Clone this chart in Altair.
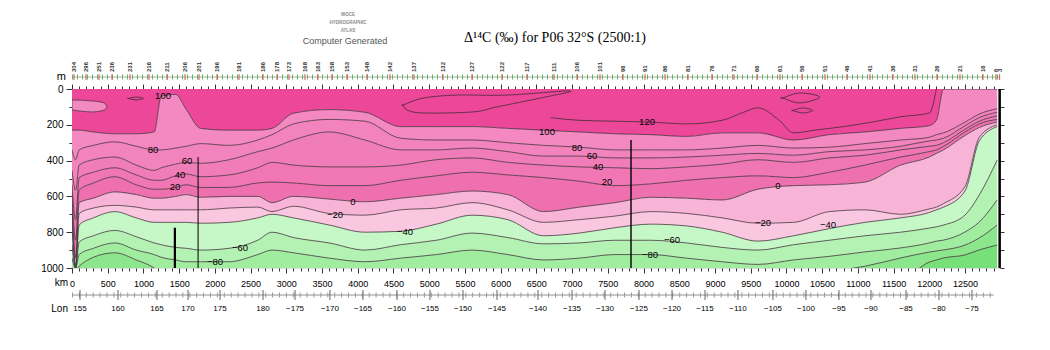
import altair as alt
import pandas as pd

# ---------------- data ----------------
KM = [0, 50, 100, 300, 600, 900, 1150, 1250, 1450, 1600, 1800, 2200, 2600, 2800, 3100, 3600, 4100,
      4600, 5100, 5600, 6100, 6600, 7100, 7600, 8100, 8600, 9100, 9600, 10100, 10600, 11100, 11600,
      12000, 12100, 12200, 12500, 12700, 12950]

D100 = [230, 230, 230, 240, 250, 250, 240, 40, 30, 115, 220, 230, 230, 220, 135, 115, 130, 210, 210, 210,
        220, 230, 240, 250, 255, 265, 245, 245, 285, 255, 240, 220, 205, 175, 0, 0, 0, 0]
D80 = [340, 395, 340, 315, 295, 320, 340, 340, 330, 320, 305, 315, 285, 255, 195, 170, 180, 275, 285, 285,
       300, 315, 325, 340, 340, 340, 330, 315, 330, 325, 305, 285, 270, 255, 245, 185, 140, 110]
D60 = [455, 565, 425, 395, 380, 425, 455, 440, 420, 410, 415, 395, 350, 330, 285, 240, 285, 340, 340, 330,
       350, 375, 375, 385, 385, 380, 370, 360, 370, 350, 340, 320, 290, 285, 275, 205, 160, 130]
D40 = [535, 730, 495, 465, 440, 480, 510, 510, 485, 475, 490, 480, 440, 410, 425, 435, 435, 425, 395, 385,
       410, 425, 435, 440, 445, 435, 420, 395, 410, 385, 370, 340, 320, 315, 300, 225, 180, 150]
D20 = [590, 845, 565, 525, 490, 535, 560, 560, 550, 535, 550, 550, 525, 520, 525, 540, 540, 510, 485, 465,
       480, 495, 515, 540, 530, 510, 495, 485, 495, 465, 425, 380, 350, 340, 320, 240, 195, 170]
D0 = [650, 945, 635, 610, 575, 590, 610, 610, 600, 590, 605, 600, 600, 635, 600, 615, 630, 610, 590, 570,
      590, 685, 660, 635, 605, 610, 620, 560, 540, 535, 520, 425, 380, 360, 340, 260, 215, 185]
DM20 = [705, 985, 695, 665, 650, 660, 675, 675, 675, 675, 675, 665, 660, 685, 655, 695, 705, 675, 665, 635,
        675, 745, 730, 710, 685, 695, 720, 750, 745, 685, 675, 700, 670, 660, 640, 545, 270, 200]
DM40 = [775, 1000, 760, 720, 685, 720, 745, 745, 745, 745, 750, 745, 720, 700, 720, 760, 800, 795, 755, 705,
        730, 820, 805, 775, 755, 765, 800, 850, 820, 780, 745, 720, 690, 675, 660, 570, 290, 210]
DM60 = [870, 1000, 855, 820, 790, 825, 860, 870, 885, 890, 900, 890, 845, 800, 830, 860, 900, 870, 845, 805,
        830, 865, 860, 845, 845, 860, 885, 900, 870, 845, 820, 800, 777, 770, 760, 704, 592, 397]
DM80 = [945, 1000, 925, 890, 860, 900, 925, 940, 955, 965, 965, 965, 925, 900, 915, 945, 965, 945, 925, 900,
        925, 955, 945, 925, 925, 945, 965, 980, 955, 935, 910, 888, 860, 850, 844, 799, 743, 620]
DM100 = [1000, 1010, 990, 940, 915, 955, 1000, 1030, 1040, 1040, 1040, 1040, 1040, 1040, 1040, 1040, 1040,
         1040, 1040, 1040, 1040, 1040, 1040, 1040, 1040, 1040, 1040, 1040, 1040, 1020, 990, 944, 911, 905,
         899, 872, 832, 760]
DM120 = [1060, 1060, 1060, 1060, 1060, 1060, 1060, 1060, 1060, 1060, 1060, 1060, 1060, 1060, 1060, 1060,
         1060, 1060, 1060, 1060, 1060, 1060, 1060, 1060, 1060, 1060, 1060, 1060, 1060, 1060, 1060, 1060,
         967, 955, 944, 927, 899, 872]

LEVELS = [100, 80, 60, 40, 20, 0, -20, -40, -60, -80, -100, -120]
CONTOURS = [D100, D80, D60, D40, D20, D0, DM20, DM40, DM60, DM80, DM100, DM120]
BAND_NAMES = [">100", "80-100", "60-80", "40-60", "20-40", "0-20", "-20-0", "-40--20",
              "-60--40", "-80--60", "-100--80", "-120--100", "<-120"]
BAND_COLORS = ["#ec4799", "#f389c0", "#f283bc", "#f17db8", "#f077b4", "#ef70af", "#f8b4d6", "#fac7e0",
               "#c6f7c6", "#b4f2b4", "#a0eda0", "#8ce68c", "#78e078"]

# 120 permil contour (line only) and closed loops
C120_KM = [6700, 7100, 7600, 8100, 8600, 9100, 9400, 9600, 9900, 10100, 10400, 10800, 11200, 11600, 12000, 12100]
C120_D = [160, 175, 180, 185, 195, 175, 130, 105, 175, 245, 230, 210, 185, 155, 135, 0]
LOOP_A_KM = [4637, 4915, 5381, 6089, 6971, 6551, 5949, 5613, 4915, 4689, 4637]
LOOP_A_D = [89, 51, 34, 34, 11, 51, 100, 128, 134, 117, 89]
LOOP_B_KM = [9950, 10190, 10470, 10190, 9950]
LOOP_B_D = [50, 22, 45, 78, 50]
LOOP_C_KM = [10090, 10230, 10370, 10230, 10090]
LOOP_C_D = [120, 106, 120, 134, 120]
LOOP_D_KM = [790, 895, 1000, 895, 790]
LOOP_D_D = [53, 45, 53, 61, 53]
TONGUE_KM = [0, 290, 450, 490]
TONGUE_TOP = [61, 67, 78, 100]
TONGUE_BOT = [117, 128, 118, 100]

# vertical gaps (black lines)
GAP_KM = [1440, 1765, 7825]
GAP_TOP = [775, 380, 285]

# contour labels
LBL_TEXT = ["100", "80", "60", "40", "20", "0", "\u221220", "\u221260", "\u221280", "\u221240", "100", "120",
            "80", "60", "40", "20", "\u221260", "\u221280", "0", "\u221220", "\u221240"]
LBL_KM = [1274, 1134, 1610, 1512, 1442, 3933, 3681, 2352, 2002, 4661, 6649, 8049, 7069, 7279, 7363, 7489,
          8399, 8091, 9882, 9672, 10582]
LBL_D = [39, 341, 402, 480, 547, 631, 704, 888, 966, 799, 240, 184, 330, 374, 436, 520, 844, 927, 542, 749, 760]

# stations along the top
ST_KM = [28, 196, 378, 560, 812, 1078, 1330, 1582, 1778, 2030, 2338, 2674, 2870, 3037, 3261, 3443, 3639,
         3849, 4129, 4451, 4787, 5193, 5599, 6019, 6369, 6747, 7069, 7391, 7713, 8021, 8301, 8623, 8958,
         9266, 9588, 9910, 10218, 10540, 10848, 11170, 11492, 11800, 12108, 12430, 12752, 12934, 12985]
ST_LBL = ["304", "296", "251", "236", "231", "216", "211", "206", "201", "196", "191", "186", "178", "173",
          "168", "163", "158", "153", "148", "142", "137", "132", "127", "122", "117", "111", "106", "101",
          "96", "91", "86", "81", "76", "71", "66", "61", "56", "51", "46", "41", "36", "31", "26", "21",
          "16", "6", "3"]

# longitude labels (positions in km along the section)
LON_KM = [112, 644, 1190, 1624, 2072, 2674, 3122, 3611, 4073, 4549, 5011, 5473, 5949, 6523, 6999, 7461,
          7937, 8399, 8861, 9322, 9812, 10274, 10736, 11184, 11674, 12136, 12598]
LON_LBL = ["155", "160", "165", "170", "175", "180", "\u2212175", "\u2212170", "\u2212165", "\u2212160",
           "\u2212155", "\u2212150", "\u2212145", "\u2212140", "\u2212135", "\u2212130", "\u2212125",
           "\u2212120", "\u2212115", "\u2212110", "\u2212105", "\u2212100", "\u221295", "\u221290",
           "\u221285", "\u221280", "\u221275"]

XMAX = 12990
KM_TICKS = list(range(0, 13000, 100))
DEPTH_TICKS = list(range(0, 1001, 100))

# ---------------- tables ----------------
bounds = [[0] * len(KM)] + CONTOURS + [[1060] * len(KM)]
band_rows = []
for i, name in enumerate(BAND_NAMES):
    for k, t, b in zip(KM, bounds[i], bounds[i + 1]):
        band_rows.append({"km": k, "top": t, "bot": b, "band": name})
bands = pd.DataFrame(band_rows)

line_rows = []
for lev, arr in zip(LEVELS, CONTOURS):
    for k, d in zip(KM, arr):
        line_rows.append({"km": k, "depth": d, "lev": str(lev)})
for k, d in zip(C120_KM, C120_D):
    line_rows.append({"km": k, "depth": d, "lev": "120"})
lines = pd.DataFrame(line_rows)

loop_rows = []
for nm, ks, ds in [("A", LOOP_A_KM, LOOP_A_D), ("B", LOOP_B_KM, LOOP_B_D),
                   ("C", LOOP_C_KM, LOOP_C_D), ("D", LOOP_D_KM, LOOP_D_D)]:
    for j, (k, d) in enumerate(zip(ks, ds)):
        loop_rows.append({"km": k, "depth": d, "loop": nm, "o": j})
loops = pd.DataFrame(loop_rows)

tongue = pd.DataFrame({"km": TONGUE_KM, "top": TONGUE_TOP, "bot": TONGUE_BOT})
gaps = pd.DataFrame({"km": GAP_KM, "top": GAP_TOP, "bot": [1000] * len(GAP_KM),
                     "w": [2.2, 1.0, 1.4]})
labels = pd.DataFrame({"km": LBL_KM, "depth": LBL_D, "t": LBL_TEXT})
stations = pd.DataFrame({"km": ST_KM, "t": ST_LBL})
lon = pd.DataFrame({"km": LON_KM, "t": LON_LBL})

# ---------------- scales / axes ----------------
xs = alt.Scale(domain=[0, XMAX], nice=False, zero=False)
ys = alt.Scale(domain=[0, 1000], reverse=True, nice=False, zero=False)
FONT = "Liberation Sans"

x_bottom = alt.Axis(orient="bottom", values=KM_TICKS, title=None, grid=False, domain=False,
                    tickColor="black", tickWidth=0.8,
                    tickSize={"condition": {"test": "datum.value % 500 === 0", "value": 5}, "value": 3},
                    labelExpr="datum.value % 500 === 0 ? '' + datum.value : ''",
                    labelFont=FONT, labelFontSize=9, labelColor="black", labelPadding=6,
                    labelOverlap=False, labelFlush=False)
y_left = alt.Axis(orient="left", values=DEPTH_TICKS, title=None, grid=False, domain=False,
                  tickColor="black", tickWidth=0.8,
                  tickSize={"condition": {"test": "datum.value % 200 === 0", "value": 6}, "value": 3},
                  labelExpr="datum.value % 200 === 0 ? '' + datum.value : ''",
                  labelFont=FONT, labelFontSize=10, labelColor="black", labelPadding=3,
                  labelOverlap=False, labelFlush=False)
x_top = alt.Axis(orient="top", values=KM_TICKS, title=None, grid=False, domain=False, labels=False,
                 tickColor="black", tickWidth=0.8,
                 tickSize={"condition": {"test": "datum.value % 500 === 0", "value": 5}, "value": 3})
y_right = alt.Axis(orient="right", values=DEPTH_TICKS, title=None, grid=False, domain=False,
                   labels=False, tickColor="black", tickWidth=0.8, tickSize=4)

# ---------------- layers ----------------
band_layer = alt.Chart(bands).mark_area(clip=True, interpolate="monotone", opacity=1).encode(
    x=alt.X("km:Q", scale=xs, axis=x_bottom),
    y=alt.Y("top:Q", scale=ys, axis=y_left, stack=None),
    y2="bot:Q",
    color=alt.Color("band:N", scale=alt.Scale(domain=BAND_NAMES, range=BAND_COLORS), legend=None),
    detail="band:N",
)

tongue_layer = alt.Chart(tongue).mark_area(clip=True, interpolate="monotone", color="#f389c0",
                                           stroke="#333", strokeWidth=0.7).encode(
    x=alt.X("km:Q", scale=xs, axis=None),
    y=alt.Y("top:Q", scale=ys, axis=None, stack=None),
    y2="bot:Q",
)

line_layer = alt.Chart(lines).mark_line(clip=True, interpolate="monotone", color="#3a2a33",
                                        strokeWidth=0.75).encode(
    x=alt.X("km:Q", scale=xs, axis=None),
    y=alt.Y("depth:Q", scale=ys, axis=None),
    detail="lev:N",
)

loop_layer = alt.Chart(loops).mark_line(clip=True, interpolate="cardinal-closed", color="#3a2a33",
                                        strokeWidth=0.75).encode(
    x=alt.X("km:Q", scale=xs, axis=None),
    y=alt.Y("depth:Q", scale=ys, axis=None),
    detail="loop:N",
    order="o:Q",
)

gap_layer = alt.Chart(gaps).mark_rule(clip=True, color="black").encode(
    x=alt.X("km:Q", scale=xs, axis=None),
    y=alt.Y("top:Q", scale=ys, axis=None),
    y2="bot:Q",
    strokeWidth=alt.StrokeWidth("w:Q", scale=None, legend=None),
)

label_layer = alt.Chart(labels).mark_text(font=FONT, fontSize=9.5, color="black").encode(
    x=alt.X("km:Q", scale=xs, axis=None),
    y=alt.Y("depth:Q", scale=ys, axis=None),
    text="t:N",
)

# secondary axes (top and right)
axes2 = alt.Chart(pd.DataFrame({"km": [0], "depth": [0]})).mark_point(opacity=0).encode(
    x=alt.X("km:Q", scale=xs, axis=x_top),
    y=alt.Y("depth:Q", scale=ys, axis=y_right),
)

# right edge thick line at last station
edge = alt.Chart(pd.DataFrame({"km": [ST_KM[-1]]})).mark_rule(color="black", strokeWidth=2.5).encode(
    x=alt.X("km:Q", scale=xs, axis=None), y=alt.value(0), y2=alt.value(179))

# station row above the plot
st_line = alt.Chart(pd.DataFrame({"a": [0], "b": [XMAX]})).mark_rule(color="#9a9a9a", strokeWidth=0.8).encode(
    x=alt.X("a:Q", scale=xs, axis=None), x2="b:Q", y=alt.value(-12))
st_ticks_minor = alt.Chart(pd.DataFrame({"a": [0], "b": [XMAX]})).mark_rule(
    color="#5cb85c", strokeWidth=5, strokeDash=[1, 4]).encode(
    x=alt.X("a:Q", scale=xs, axis=None), x2="b:Q", y=alt.value(-12))
st_ticks = alt.Chart(stations).mark_rule(color="#d9534f", strokeWidth=1).encode(
    x=alt.X("km:Q", scale=xs, axis=None), y=alt.value(-15), y2=alt.value(-9))
st_text = alt.Chart(stations).mark_text(font=FONT, fontSize=6, fontWeight="bold", angle=270,
                                        align="left", baseline="middle", color="#333").encode(
    x=alt.X("km:Q", scale=xs, axis=None), y=alt.value(-17), text="t:N")

# longitude axis below
lon_line = alt.Chart(pd.DataFrame({"a": [0], "b": [XMAX - 90]})).mark_rule(color="#777", strokeWidth=0.8).encode(
    x=alt.X("a:Q", scale=xs, axis=None), x2="b:Q", y=alt.value(206))
lon_minor = alt.Chart(pd.DataFrame({"a": [0], "b": [XMAX - 90]})).mark_rule(
    color="#999", strokeWidth=5, strokeDash=[1, 5.9]).encode(
    x=alt.X("a:Q", scale=xs, axis=None), x2="b:Q", y=alt.value(206))
lon_major = alt.Chart(lon).mark_rule(color="#666", strokeWidth=1).encode(
    x=alt.X("km:Q", scale=xs, axis=None), y=alt.value(201), y2=alt.value(211))
lon_text = alt.Chart(lon).mark_text(font=FONT, fontSize=8, color="black").encode(
    x=alt.X("km:Q", scale=xs, axis=None), y=alt.value(220), text="t:N")


def note(txt, x, y, size, color="black", font=FONT, weight="normal", align="center"):
    return alt.Chart(pd.DataFrame({"t": [txt]})).mark_text(
        font=font, fontSize=size, color=color, fontWeight=weight, align=align, baseline="middle").encode(
        x=alt.value(x), y=alt.value(y), text="t:N")


texts = [
    note("m", -6, -12, 11, align="right"),
    note("km", -4, 194, 10, align="right"),
    note("Lon", -4, 220, 10, align="right"),
    note("\u0394\u00b9\u2074C (\u2030) for P06 32\u00b0S (2500:1)", 483, -51, 14, font="Liberation Serif"),
    note("WOCE", 276, -74, 4.5, color="#888", weight="bold"),
    note("HYDROGRAPHIC", 276, -66, 4.5, color="#888", weight="bold"),
    note("ATLAS", 276, -58, 4.5, color="#888", weight="bold"),
    note("Computer Generated", 273, -48, 9, color="#555"),
]

chart = alt.layer(
    band_layer, tongue_layer, line_layer, loop_layer, gap_layer, edge, label_layer, axes2,
    st_line, st_ticks_minor, st_ticks, st_text, lon_line, lon_minor, lon_major, lon_text, *texts
).resolve_axis(x="independent", y="independent").properties(
    width=928, height=179,
    autosize=alt.AutoSizeParams(type="none"),
    padding={"left": 72, "top": 89, "right": 50, "bottom": 82},
).configure_view(stroke="black", strokeWidth=1.2).configure(background="white")

chart.save("out.html", embed_options={"renderer": "svg", "actions": False})
